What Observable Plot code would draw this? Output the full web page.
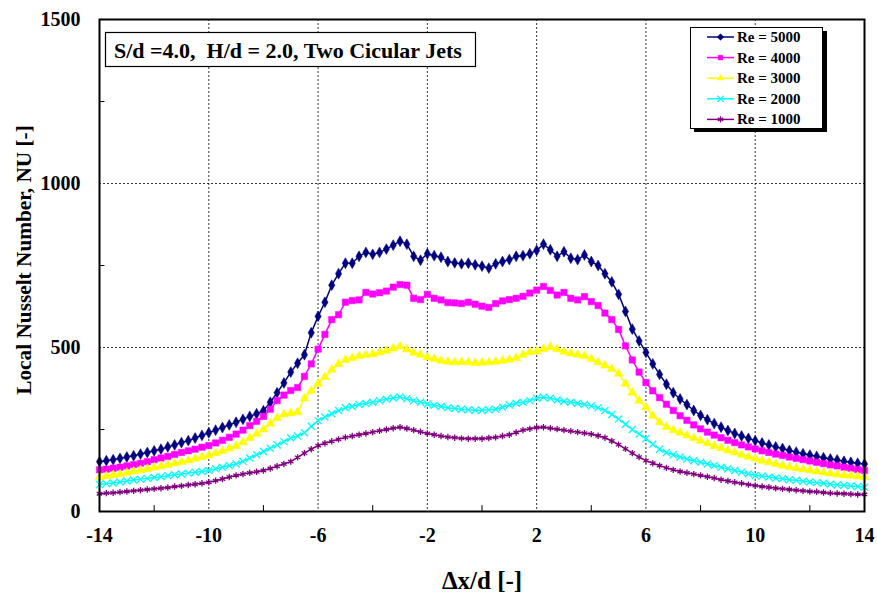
<!DOCTYPE html>
<html><head><meta charset="utf-8">
<script src="https://cdn.jsdelivr.net/npm/d3@7"></script>
<script src="https://cdn.jsdelivr.net/npm/@observablehq/plot@0.6"></script>
<style>
body{margin:0;background:#fff;}
#chart{position:relative;width:877px;height:594px;}
</style></head><body><div id="chart"></div>
<script>
// sample positions Δx/d (every 0.25 from -14 to 14)
const xPositions = d3.range(-14, 14.0001, 0.25);

const re5000 = [152,155,158,162,166,170,175,180,185,190,197,203,210,216,224,232,240,248,256,264,272,281,290,298,307,333,362,392,425,452,478,545,595,638,690,725,757,757,778,790,784,790,800,812,824,815,778,766,786,780,775,762,758,755,757,752,748,742,755,762,768,778,780,786,796,815,798,778,792,772,768,782,762,750,725,700,662,610,556,520,485,450,418,388,362,343,326,308,293,280,268,257,247,238,230,223,216,209,203,197,192,186,181,176,172,168,164,160,157,153,150,147,145];
const re4000 = [127,129,132,135,139,143,147,152,158,163,168,174,180,185,190,196,201,209,217,226,236,248,262,275,290,312,338,355,369,378,412,450,495,540,585,600,638,643,645,668,663,667,672,684,692,690,650,646,662,650,645,637,636,634,638,632,626,622,634,642,646,650,656,666,675,686,674,660,668,650,645,655,640,628,605,585,555,505,462,425,393,368,347,327,308,292,278,264,252,242,233,225,217,210,203,197,191,185,180,175,171,166,162,158,154,150,146,142,139,135,132,128,125];
const re3000 = [105,108,111,114,118,122,126,130,134,138,142,147,151,156,161,166,171,178,185,192,200,211,224,237,250,268,285,296,300,303,345,368,390,410,432,450,462,468,474,477,480,485,490,497,503,494,484,478,470,465,460,457,455,456,455,453,454,455,457,460,463,468,478,486,488,496,501,495,487,482,478,474,465,455,445,435,420,390,362,338,318,292,272,258,248,240,232,224,216,208,200,193,186,180,173,167,161,155,150,145,140,136,132,129,126,122,119,116,113,111,109,107,105];
const re2000 = [82,85,87,90,93,96,98,101,104,106,109,112,114,117,120,122,125,130,135,140,145,153,163,173,183,193,203,213,224,230,240,260,277,288,298,308,316,320,326,329,333,338,342,346,349,344,338,333,328,324,320,316,314,312,310,309,309,310,312,318,325,330,333,338,345,348,345,340,336,333,330,326,322,316,308,296,282,266,250,236,222,205,190,180,173,166,160,155,150,145,140,135,130,125,120,115,110,108,105,102,100,97,95,92,90,88,86,83,81,80,78,76,74];
const re1000 = [54,56,57,59,61,63,65,67,69,71,73,76,78,81,83,86,89,94,99,105,110,114,118,121,125,131,138,145,152,165,178,190,201,208,214,220,226,230,234,238,242,246,250,254,257,253,248,243,238,234,230,227,225,223,222,222,222,224,226,230,234,241,248,252,256,257,254,251,248,245,242,239,236,231,225,215,204,191,178,166,155,147,140,133,127,122,118,114,110,106,102,97,93,89,86,82,79,76,74,71,69,67,65,63,61,60,58,56,55,54,53,52,52];

const seriesNames = ["Re = 5000","Re = 4000","Re = 3000","Re = 2000","Re = 1000"];
const seriesValues = [re5000, re4000, re3000, re2000, re1000];
const seriesColors = ["#000080","#FF00FF","#FFFF00","#00FFFF","#800080"];
const seriesSymbols = ["diamond","square","triangle","times","asterisk"];
const seriesFilled = [true, true, true, false, false];
const seriesR = [3.3, 3.6, 3.3, 3.3, 3];

const xTicks = [-14,-10,-6,-2,2,6,10,14];
const xMinor = [-12,-8,-4,0,4,8,12];
const yTicks = [0,500,1000,1500];
const yMinor = [250,750,1250];

const annotation = "S/d =4.0,\u00A0\u00A0H/d = 2.0, Two Cicular Jets";
const xTitle = "Δx/d [-]";
const yTitle = "Local Nusselt Number, NU [-]";

const FONT = "'Liberation Serif','Times New Roman',serif";

const marks = [];
marks.push(Plot.ruleX(xTicks.slice(1,-1), {stroke:"#000", strokeWidth:0.8, strokeDasharray:"2,2"}));
marks.push(Plot.ruleY(yTicks.slice(1,-1), {stroke:"#000", strokeWidth:0.8, strokeDasharray:"2,2"}));
marks.push(Plot.ruleX(xMinor, {y1:0, y2:18, stroke:"#000", strokeWidth:1}));
marks.push(Plot.ruleY(yMinor, {x1:-14, x2:-13.8, stroke:"#000", strokeWidth:1}));

seriesValues.forEach((vals, k) => {
  const data = xPositions.map((x, i) => ({x, y: vals[i]}));
  const c = seriesColors[k];
  marks.push(Plot.line(data, {x:"x", y:"y", stroke:c, strokeWidth:1.5}));
  if (seriesFilled[k]) {
    marks.push(Plot.dot(data, {x:"x", y:"y", symbol:seriesSymbols[k], r:seriesR[k], fill:c, stroke:c, strokeWidth:0.5}));
  } else {
    marks.push(Plot.dot(data, {x:"x", y:"y", symbol:seriesSymbols[k], r:seriesR[k], stroke:c, strokeWidth:1.3}));
  }
});

marks.push(Plot.frame({stroke:"#000", strokeWidth:2}));
marks.push(Plot.axisX({ticks:xTicks, tickSize:0, tickPadding:16, tickFormat:d=>String(d), label:null, fontSize:20, fontWeight:"bold"}));
marks.push(Plot.axisY({ticks:yTicks, tickSize:0, tickPadding:19, tickFormat:d=>String(d), label:null, fontSize:20, fontWeight:"bold"}));

const svg = Plot.plot({
  width:877, height:594,
  marginLeft:99, marginRight:13, marginTop:19, marginBottom:83,
  x:{domain:[-14,14]},
  y:{domain:[0,1500]},
  style:{fontFamily:FONT, fontWeight:"bold", fontSize:"20px", color:"#000", background:"#fff"},
  marks
});
document.getElementById("chart").appendChild(svg);

const s = d3.select(svg);
// axis titles
s.append("text").attr("x",482).attr("y",589).attr("text-anchor","middle")
  .attr("font-family",FONT).attr("font-weight","bold").attr("font-size",25).attr("fill","#000").text(xTitle);
s.append("text").attr("transform","translate(31,260) rotate(-90)").attr("text-anchor","middle")
  .attr("font-family",FONT).attr("font-weight","bold").attr("font-size",21.3).attr("fill","#000").text(yTitle);

// annotation box
const ann = s.append("g");
ann.append("rect").attr("x",105.5).attr("y",32.5).attr("width",370).attr("height",34).attr("fill","#fff").attr("stroke","#000").attr("stroke-width",1.2);
ann.append("text").attr("x",114).attr("y",57.5).attr("text-anchor","start").attr("font-family",FONT).attr("font-weight","bold").attr("font-size",22).attr("fill","#000").text(annotation);

// legend
const lg = s.append("g");
lg.append("rect").attr("x",694).attr("y",31).attr("width",133).attr("height",101).attr("fill","#000");
lg.append("rect").attr("x",690.5).attr("y",27.5).attr("width",132).attr("height",101).attr("fill","#fff").attr("stroke","#000").attr("stroke-width",1);
const symMap = {diamond:d3.symbolDiamond2, square:d3.symbolSquare2, triangle:d3.symbolTriangle2, times:d3.symbolTimes, asterisk:d3.symbolAsterisk};
seriesNames.forEach((name, k) => {
  const cy = 37 + k*20.6;
  const c = seriesColors[k];
  lg.append("line").attr("x1",707).attr("x2",734).attr("y1",cy).attr("y2",cy).attr("stroke",c).attr("stroke-width",1.5);
  const p = lg.append("path").attr("transform",`translate(720.5,${cy})`).attr("d", d3.symbol(symMap[seriesSymbols[k]], 28)());
  if (seriesFilled[k]) p.attr("fill",c).attr("stroke",c).attr("stroke-width",0.5);
  else p.attr("fill","none").attr("stroke",c).attr("stroke-width",1.2);
  lg.append("text").attr("x",737).attr("y",cy+5).attr("text-anchor","start").attr("font-family",FONT).attr("font-weight","bold").attr("font-size",15).attr("fill","#000").text(name);
});
</script></body></html>
